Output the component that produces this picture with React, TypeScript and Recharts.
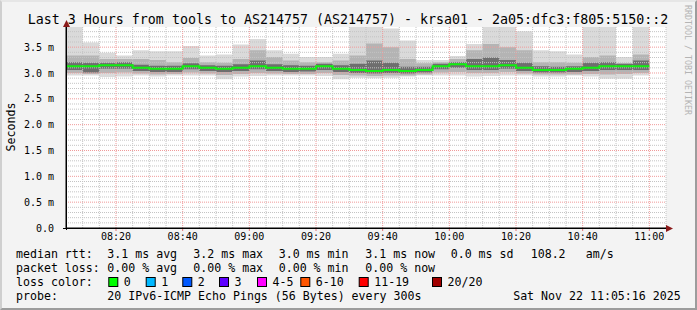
import { ComposedChart, Area, Line, XAxis, YAxis, CartesianGrid, ReferenceLine } from "recharts";

// 5-minute steps, 20 pings each (values in ms)
const STEP_START = [
  "08:05", "08:10", "08:15", "08:20", "08:25", "08:30", "08:35", "08:40", "08:45", "08:50",
  "08:55", "09:00", "09:05", "09:10", "09:15", "09:20", "09:25", "09:30", "09:35", "09:40",
  "09:45", "09:50", "09:55", "10:00", "10:05", "10:10", "10:15", "10:20", "10:25", "10:30",
  "10:35", "10:40", "10:45", "10:50", "10:55",
];
const LAST_STEP_END = "11:00";

const PING_MAX = [
  3.95, 3.59, 3.39, 3.34, 3.44, 3.42, 3.42, 3.52, 3.34, 3.36, 3.55, 3.66, 3.44, 3.37, 3.31, 3.31, 3.37, 3.95,
  3.95, 3.86, 3.63, 3.25, 3.25, 3.33, 3.56, 3.95, 3.95, 3.81, 3.44, 3.42, 3.36, 3.95, 3.95, 3.31, 3.95,
];
const PING_P90 = [
  3.34, 3.34, 3.27, 3.27, 3.27, 3.25, 3.21, 3.29, 3.21, 3.2, 3.27, 3.44, 3.31, 3.24, 3.21, 3.21, 3.24, 3.34,
  3.57, 3.5, 3.27, 3.19, 3.21, 3.27, 3.44, 3.56, 3.5, 3.44, 3.21, 3.21, 3.2, 3.31, 3.34, 3.19, 3.36,
];
const PING_P75 = [
  3.21, 3.2, 3.2, 3.21, 3.16, 3.14, 3.14, 3.19, 3.15, 3.14, 3.17, 3.24, 3.17, 3.15, 3.14, 3.18, 3.15, 3.18,
  3.24, 3.2, 3.12, 3.12, 3.18, 3.21, 3.27, 3.3, 3.25, 3.2, 3.13, 3.12, 3.13, 3.2, 3.21, 3.18, 3.24,
];
const MEDIAN_RTT = [
  3.13, 3.13, 3.15, 3.15, 3.1, 3.08, 3.08, 3.13, 3.1, 3.08, 3.1, 3.13, 3.1, 3.08, 3.08, 3.13, 3.08, 3.06,
  3.04, 3.06, 3.04, 3.06, 3.13, 3.17, 3.13, 3.13, 3.15, 3.1, 3.06, 3.06, 3.08, 3.1, 3.13, 3.13, 3.13,
];
const PING_P25 = [
  3.06, 3.01, 3.08, 3.08, 3.04, 3.02, 3.02, 3.07, 3.04, 3.02, 3.04, 3.07, 3.04, 3.02, 3.03, 3.06, 3.02, 3.0,
  2.99, 3.0, 2.99, 3.01, 3.07, 3.1, 3.06, 3.06, 3.08, 3.04, 3.01, 3.01, 3.02, 3.04, 3.06, 3.06, 3.06,
];
const PING_P10 = [
  3.0, 2.98, 3.0, 3.01, 2.99, 2.97, 2.98, 3.01, 2.99, 2.96, 2.98, 3.0, 2.99, 2.98, 2.98, 3.0, 2.96, 2.95,
  2.94, 2.95, 2.95, 2.97, 3.01, 3.02, 3.0, 3.0, 3.02, 2.99, 2.97, 2.97, 2.97, 2.98, 2.97, 2.98, 3.0,
];
const PING_MIN = [
  2.95, 2.95, 2.92, 2.93, 2.95, 2.93, 2.95, 2.95, 2.95, 2.88, 2.93, 2.94, 2.95, 2.95, 2.95, 2.94, 2.88, 2.91,
  2.9, 2.91, 2.93, 2.95, 2.95, 2.95, 2.93, 2.94, 2.95, 2.95, 2.93, 2.93, 2.95, 2.93, 2.89, 2.89, 2.95,
];

const TIME_TICKS = ["08:20", "08:40", "09:00", "09:20", "09:40", "10:00", "10:20", "10:40", "11:00"];
const Y_TICKS = [0, 0.5, 1, 1.5, 2, 2.5, 3, 3.5];
const X_START = "08:05";
const X_END = "11:05";
const Y_MAX = 3.89;

const LOSS_COLORS = ["#00ff00", "#00b8ff", "#0059ff", "#5e00ff", "#ff00ff", "#ff5500", "#ff0000", "#a10000"];
const LOSS_LABELS = ["0", "1", "2", "3", "4-5", "6-10", "11-19", "20/20"];

const toMin = (s: string) => {
  const [h, m] = s.split(":").map(Number);
  return h * 60 + m;
};
const fmtTime = (v: number) =>
  `${String(Math.floor(v / 60)).padStart(2, "0")}:${String(v % 60).padStart(2, "0")}`;

const rows = STEP_START.map((s, i) => ({
  t: toMin(s),
  outer: [PING_MIN[i], PING_MAX[i]],
  mid: [PING_P10[i], PING_P90[i]],
  inner: [PING_P25[i], PING_P75[i]],
  median: MEDIAN_RTT[i],
}));
rows.push({ ...rows[rows.length - 1], t: toMin(LAST_STEP_END) });

const MONO = "'DejaVu Sans Mono', monospace";

// grid positions
const majorX = TIME_TICKS.map(toMin);
const minorX: number[] = [];
for (let t = toMin(X_START) + 5; t <= toMin(X_END); t += 5) if (!majorX.includes(t)) minorX.push(t);
const minorY: number[] = [];
for (let k = 1; k * 0.1 < Y_MAX; k++) if (k % 5 !== 0) minorY.push(+(k * 0.1).toFixed(1));
const majorY = Y_TICKS.filter((v) => v > 0);

const LEGEND_X = [107.3, 193.3, 278.7, 365.3, 450.7, 530.7, 585.7];
const RTT_TEXT = ["3.1 ms avg", "3.2 ms max", "3.0 ms min", "3.1 ms now", "0.0 ms sd", "108.2", "am/s"];
const LOSS_TEXT = ["0.00 % avg", "0.00 % max", "0.00 % min", "0.00 % now"];
const BOX_X = [108.3, 145.7, 182.3, 219, 257, 300.3, 358.7, 432];

export default function App() {
  return (
    <div style={{ position: "absolute", left: 0, top: 0, width: 697, height: 310, background: "#f3f3f3" }}>
      <ComposedChart width={697} height={310} data={rows} margin={{ top: 27, right: 31, bottom: 62, left: 6 }}>
        <CartesianGrid horizontal={false} vertical={false} fill="#ffffff" />
        <XAxis
          dataKey="t"
          type="number"
          domain={[toMin(X_START), toMin(X_END)]}
          ticks={majorX}
          tickFormatter={fmtTime}
          height={20}
          axisLine={{ stroke: "#000" }}
          tickLine={{ stroke: "#e07070" }}
          tickSize={3}
          tickMargin={2}
          tick={{ fontFamily: MONO, fontSize: 10, fill: "#000" }}
          allowDataOverflow
        />
        <YAxis
          type="number"
          domain={[0, Y_MAX]}
          ticks={Y_TICKS}
          tickFormatter={(v: number) => (v === 0 ? "0.0" : `${v.toFixed(1)} m`)}
          width={60}
          axisLine={{ stroke: "#000" }}
          tickLine={false}
          tickMargin={6}
          tick={{ fontFamily: MONO, fontSize: 10, fill: "#000" }}
          allowDataOverflow
        />
        <Area type="stepAfter" dataKey="outer" fill="#dadada" fillOpacity={1} stroke="none" isAnimationActive={false} />
        <Area type="stepAfter" dataKey="mid" fill="#b4b4b4" fillOpacity={1} stroke="none" isAnimationActive={false} />
        <Area type="stepAfter" dataKey="inner" fill="#6e6e6e" fillOpacity={1} stroke="none" isAnimationActive={false} />
        {minorY.map((v) => (
          <ReferenceLine key={`my${v}`} y={v} stroke="#c4c4c4" strokeDasharray="1 1" />
        ))}
        {minorX.map((v) => (
          <ReferenceLine key={`mx${v}`} x={v} stroke="#c4c4c4" strokeDasharray="1 1" />
        ))}
        {majorY.map((v) => (
          <ReferenceLine key={`My${v}`} y={v} stroke="#f09a9a" strokeDasharray="1 1" />
        ))}
        {majorX.map((v) => (
          <ReferenceLine key={`Mx${v}`} x={v} stroke="#f09a9a" strokeDasharray="1 1" />
        ))}
        <Line type="stepAfter" dataKey="median" stroke="#11f011" strokeWidth={2} dot={false} isAnimationActive={false} />
      </ComposedChart>
      <svg
        width={697}
        height={310}
        style={{ position: "absolute", left: 0, top: 0, pointerEvents: "none" }}
        fontFamily={MONO}
      >
        <text x={348} y={23.5} fontSize={13.3} textAnchor="middle" fill="#000">
          Last 3 Hours from tools to AS214757 (AS214757) - krsa01 - 2a05:dfc3:f805:5150::2
        </text>
        <text transform="translate(15,127) rotate(-90)" fontSize={11.6} textAnchor="middle" fill="#000">
          Seconds
        </text>
        <text transform="translate(685,5) rotate(90)" fontSize={8.3} fill="#b4b4b4">
          RRDTOOL / TOBI OETIKER
        </text>
        <line x1={66.5} y1={230} x2={66.5} y2={24} stroke="#000" />
        <line x1={63} y1={228.5} x2={668} y2={228.5} stroke="#000" />
        <polygon points="66.5,20 63,27 70,27" fill="#8b1a1a" />
        <polygon points="673,228.5 666,225 666,232" fill="#8b1a1a" />
        <g fontSize={11.6} fill="#000">
          <text x={16} y={258.3}>median rtt:</text>
          {RTT_TEXT.map((s, i) => (
            <text key={s} x={LEGEND_X[i]} y={258.3}>
              {s}
            </text>
          ))}
          <text x={16} y={272.3}>packet loss:</text>
          {LOSS_TEXT.map((s, i) => (
            <text key={s} x={LEGEND_X[i]} y={272.3}>
              {s}
            </text>
          ))}
          <text x={16} y={286}>loss color:</text>
          {LOSS_COLORS.map((c, i) => (
            <g key={c}>
              <rect x={BOX_X[i] + 0.5} y={277.5} width={9} height={9} fill={c} stroke="#000" />
              <text x={BOX_X[i] + 15.5} y={286}>
                {LOSS_LABELS[i]}
              </text>
            </g>
          ))}
          <text x={16} y={299.7}>probe:</text>
          <text x={107.3} y={299.7}>20 IPv6-ICMP Echo Pings (56 Bytes) every 300s</text>
          <text x={680.7} y={299.7} textAnchor="end">
            Sat Nov 22 11:05:16 2025
          </text>
        </g>
      </svg>
      <div
        style={{
          position: "absolute",
          left: 0,
          top: 0,
          width: 697,
          height: 310,
          boxSizing: "border-box",
          borderLeft: "2px solid #cfcfcf",
          borderTop: "2px solid #e6e6e6",
          borderRight: "2px solid #9c9c9c",
          borderBottom: "2px solid #9c9c9c",
          pointerEvents: "none",
        }}
      />
    </div>
  );
}
